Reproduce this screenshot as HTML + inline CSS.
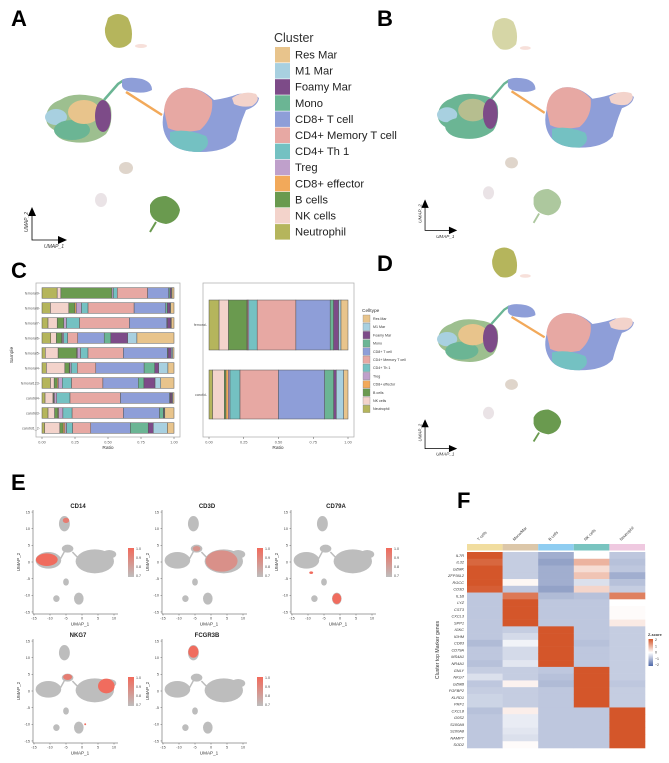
<!DOCTYPE html>
<html><head><meta charset="utf-8">
<style>
html,body{margin:0;padding:0;background:#fff;}
svg{display:block;font-family:"Liberation Sans",sans-serif;}
</style></head>
<body>
<svg id="fig" width="669" height="763" viewBox="0 0 669 763" xmlns="http://www.w3.org/2000/svg">
<g id="labels" font-weight="bold" font-size="22" fill="#000">
<text x="11" y="26">A</text>
<text x="377" y="26">B</text>
<text x="11" y="278">C</text>
<text x="377" y="271">D</text>
<text x="11" y="490">E</text>
<text x="457" y="508">F</text>
</g>
<g id="gA"></g>
<g id="gB" transform="translate(395.6,4.8) scale(0.92,0.94)"></g>
<g id="gD" transform="translate(395.6,235) scale(0.92,0.89)"></g>
<g id="legA"></g>
<g id="gC"></g>
<g id="gE"></g>
<g id="gF"></g>
</svg>
<script>
const NS="http://www.w3.org/2000/svg";
function mk(tag,attrs,parent,txt){const e=document.createElementNS(NS,tag);for(const k in attrs)e.setAttribute(k,attrs[k]);if(txt!==undefined)e.textContent=txt;parent.appendChild(e);return e;}

// ---------- data ----------
const clusters=["Res Mar","M1 Mar","Foamy Mar","Mono","CD8+ T cell","CD4+ Memory T cell","CD4+ Th 1","Treg","CD8+ effector","B cells","NK cells","Neutrophil"];
const clusterColors=["#e8c48c","#a8d0e0","#7d4b88","#6bb594","#8e9ed8","#e7a8a3","#74c1c2","#bfa0cb","#f2a95a","#6a9a4f","#f3d3cb","#b5b55c"];
// stacking order (left to right) = reversed legend
const samples=["femoral9","femoral8","femoral7","femoral6","femoral5","femoral4","femoral123","carotid4","carotid3","carotid1_2"];
// values in order: Neutrophil, NK, B, CD8eff, Treg, Th1, CD4Mem, CD8T, Mono, Foamy, M1, Res
const sampleRatios=[
[.115,.028,.387,0,.01,.03,.23,.16,.01,.01,.005,.015],
[.064,.14,.046,.01,.04,.05,.35,.24,.013,.02,.005,.025],
[.046,.07,.05,0,.02,.1,.38,.285,.005,.025,.005,.02],
[.066,.043,.04,.005,.01,.03,.076,.2,.05,.127,.07,.28],
[.025,.097,.14,.005,.025,.056,.267,.333,.005,.025,.01,.01],
[.033,.14,.033,.005,.01,.046,.14,.366,.08,.03,.07,.046],
[.064,.028,.023,.008,.03,.07,.237,.267,.043,.084,.043,.1],
[.023,.06,.005,.005,.018,.1,.38,.37,.005,.013,.005,.01],
[.046,.05,.025,.005,.033,.07,.39,.275,.03,.005,.005,.07],
[.02,.115,.025,.013,.013,.046,.137,.3,.135,.038,.107,.05]];
const groups=["femoral","carotid"];
const groupRatios=[
[.072,.067,.132,.005,.008,.06,.276,.245,.024,.036,.017,.05],
[.026,.084,.012,.017,.012,.072,.276,.332,.065,.019,.053,.031]];
const ratioTicks=["0.00","0.25","0.50","0.75","1.00"];

const genes=["IL7R","IL32","GZMK","ZFP36L2","RGCC","CD3D","IL1B","LYZ","CST3","CXCL3","SPP1","IGKC","IGHM","CD83","CD79A","MS4A1","NR4A1","GNLY","NKG7","GZMB","FGFBP2","KLRD1","PRF1","CXCL8","G0S2","S100A9","S100A8","NAMPT","SOD2"];
const cellTypes=["T cells","Mono/Mar","B cells","NK cells","Neutrophil"];
const zT=[2,1.8,2,2,2,1.9,-0.9,-0.9,-0.9,-0.9,-0.9,-0.9,-0.9,-1.1,-0.9,-0.9,-1.0,-0.8,-0.5,-0.9,-0.8,-0.7,-0.7,-1.0,-0.9,-0.9,-0.9,-0.9,-0.9];
const zMono=[-0.8,-0.8,-0.8,-0.8,0.1,-0.9,1.6,2,2,2,2,-0.8,-0.6,-0.2,-0.6,-0.6,-0.4,-0.8,-0.8,0.15,-0.8,-0.8,-0.8,0.2,-0.3,-0.3,-0.4,-0.5,0.05];
const zB=[-1.3,-1.5,-1.3,-1.3,-1.3,-1.5,-1.1,-0.9,-0.9,-0.9,-0.9,2,2,2,2,2,2,-0.9,-1.0,-1.1,-0.9,-0.9,-0.9,-0.9,-0.9,-0.9,-0.9,-0.9,-0.9];
const zNK=[0,0.9,0.4,0.7,-0.5,0.5,-1.0,-0.9,-0.9,-0.9,-0.9,-0.9,-0.9,-1.0,-0.9,-0.9,-0.9,2,2,2,2,2,2,-0.9,-0.9,-0.9,-0.9,-0.9,-0.9];
const zNeu=[-0.9,-1.0,-0.9,-1.3,-1.0,-0.8,1.5,0,0.05,0.05,0.25,-0.8,-0.8,-0.8,-0.8,-0.8,-0.8,-0.8,-0.8,-0.9,-0.8,-0.8,-0.8,2,2,2,2,2,2];
const zCols=[zT,zMono,zB,zNK,zNeu];
const annoColors=["#f1dd9f","#dcc7a9","#8fcdf1","#79c4c0","#efc9e0"];

const features=["CD14","CD3D","CD79A","NKG7","FCGR3B"];
const umapXTicks=[-15,-10,-5,0,5,10];
const umapYTicks=[15,10,5,0,-5,-10,-15];
const cbarTicks=["1.0","0.9","0.8","0.7"];

// ---------- UMAP (A/B/D) ----------
function umap(g,sparse){
  const C={};clusters.forEach((c,i)=>C[c]=clusterColors[i]);
  const op=sparse?0.55:1;
  function el(name,a){const e=mk("ellipse",a,g);return e;}
  function pth(name,a){const e=mk("path",a,g);return e;}
  pth('neutrophil-cluster',{d:"M108 18 Q118 10 128 18 Q134 30 131 42 Q124 50 114 47 Q104 40 105 28 Z",fill:C["Neutrophil"],opacity:op});
  el('small-cluster-top',{cx:141,cy:46,rx:6,ry:2,fill:C["NK cells"],opacity:0.7});
  pth('myeloid-cluster',{d:"M46 116 Q48 104 60 100 Q72 92 92 96 Q108 98 111 108 Q113 125 106 134 Q92 145 72 142 Q56 140 54 130 Q45 125 46 116 Z",fill:sparse?C["Mono"]:"#9dbf8f"});
  el('m1-region',{cx:56,cy:117,rx:11,ry:8,fill:C["M1 Mar"]});
  el('mono-region',{cx:72,cy:130,rx:18,ry:10,fill:C["Mono"]});
  el('resmar-region',{cx:84,cy:112,rx:16,ry:12,fill:C["Res Mar"],opacity:sparse?0.6:1});
  el('foamy-region',{cx:103,cy:116,rx:8,ry:16,fill:C["Foamy Mar"]});
  pth('stalk',{d:"M104 100 L118 84 L124 80",stroke:C["Mono"],"stroke-width":2.5,fill:"none"});
  pth('cd8-small-cluster',{d:"M122 80 Q128 76 142 79 Q152 82 152 90 Q145 94 133 92 Q123 91 122 86 Z",fill:C["CD8+ T cell"]});
  pth('effector-strand',{d:"M126 92 L162 115",stroke:C["CD8+ effector"],"stroke-width":2.5,fill:"none"});
  pth('tcell-cluster',{d:"M164 112 Q166 92 182 88 Q200 86 214 100 Q228 98 238 94 Q252 92 259 98 Q258 106 246 110 Q240 124 236 140 Q226 152 200 152 Q176 152 168 140 Q160 128 164 112 Z",fill:C["CD8+ T cell"]});
  pth('cd4-memory-region',{d:"M164 110 Q166 92 182 88 Q200 86 212 100 Q214 118 200 130 Q180 134 168 128 Z",fill:C["CD4+ Memory T cell"]});
  pth('th1-region',{d:"M170 132 Q186 128 206 136 Q212 146 200 152 Q178 152 170 142 Z",fill:C["CD4+ Th 1"]});
  pth('nk-region',{d:"M232 98 Q244 90 256 94 Q261 100 252 106 Q242 108 234 104 Z",fill:C["NK cells"]});
  el('small-cluster-mid',{cx:126,cy:168,rx:7,ry:6,fill:"#c9b9a8",opacity:0.6});
  el('small-cluster-low',{cx:101,cy:200,rx:6,ry:7,fill:"#d0c0c8",opacity:0.45});
  pth('bcell-cluster',{d:"M150 205 Q154 196 166 196 Q178 200 180 210 Q178 222 166 224 Q152 222 150 212 Z",fill:C["B cells"],opacity:op});
  pth('bcell-tail',{d:"M156 222 L150 232",stroke:C["B cells"],"stroke-width":2,opacity:op});
  const ax=mk("g",{},g);
  mk("path",{d:"M32 214 L32 240 L60 240",stroke:"#000","stroke-width":0.8,fill:"none"},ax);
  mk("path",{d:"M28 216 L32 207 L36 216 Z M58 236 L67 240 L58 244 Z",fill:"#000"},ax);
  mk("text",{x:44,y:248,"font-size":5,"font-style":"italic",fill:"#333"},ax,"UMAP_1");
  mk("text",{x:28,y:232,"font-size":5,"font-style":"italic",fill:"#333",transform:"rotate(-90 28 232)"},ax,"UMAP_2");
}
umap(document.getElementById('gA'),false);
umap(document.getElementById('gB'),true);
umap(document.getElementById('gD'),false);

// legend A
(function(){
  const g=document.getElementById('legA');
  const t=mk("text",{x:274,y:42,"font-size":12.5,fill:"#333"},g,"Cluster");
  
  clusters.forEach((c,i)=>{
    const y=47+i*16.1;
    const r=mk("rect",{x:275,y:y,width:15,height:15.5,fill:clusterColors[i]},g);
    
    const tx=mk("text",{x:295,y:y+11.5,"font-size":11.2,fill:"#222"},g,c);
    
  });
})();

// ---------- Panel C ----------
(function(){
  const g=document.getElementById('gC');
  const stackColors=clusterColors.slice().reverse();
  function frame(x0,x1){const r=mk("rect",{x:x0,y:283,width:x1-x0,height:154,fill:"none",stroke:"#aaa","stroke-width":0.7},g);}
  function xaxis(x0,x1,cx){
    ratioTicks.forEach((t,i)=>{const x=x0+(x1-x0)*(+t);
      mk("line",{x1:x,x2:x,y1:437,y2:439,stroke:"#555","stroke-width":0.5},g);
      const tx=mk("text",{x:x,y:443.5,"font-size":3.8,"text-anchor":"middle",fill:"#555"},g,t);
      });
    const r=mk("text",{x:cx,y:449,"font-size":4.8,"text-anchor":"middle",fill:"#333"},g,"Ratio");
    
  }
  function bar(vals,x0,x1,y,h){
    const tot=vals.reduce((a,b)=>a+b,0);let acc=0;
    vals.forEach((v,i)=>{const xa=x0+(x1-x0)*acc/tot;acc+=v;const xb=x0+(x1-x0)*acc/tot;
      if(v<=0)return;
      const r=mk("rect",{x:xa,y:y,width:xb-xa,height:h,fill:stackColors[i],stroke:"#555","stroke-width":0.5},g);
      });
  }
  frame(36,180);
  samples.forEach((s,i)=>{const yc=293+i*15; bar(sampleRatios[i],42,174,yc-5.3,10.6);
    const t=mk("text",{x:40,y:yc+1.3,"font-size":3.6,"text-anchor":"end",fill:"#555"},g,s+"-");
    });
  xaxis(42,174,108);
  const sy=mk("text",{x:13,y:355,"font-size":4.8,fill:"#333","text-anchor":"middle",transform:"rotate(-90 13 355)"},g,"Sample");
  
  frame(203,354);
  groups.forEach((s,i)=>{const y=i?370:300; bar(groupRatios[i],209,348,y,i?49:50);
    const t=mk("text",{x:207,y:y+26,"font-size":3.6,"text-anchor":"end",fill:"#555"},g,s+"-");
    });
  xaxis(209,348,278);
  const lt=mk("text",{x:362,y:312,"font-size":4.8,fill:"#333"},g,"Celltype");
  
  clusters.forEach((c,i)=>{const y=315+i*8.2;
    const r=mk("rect",{x:363,y:y,width:7,height:7.4,fill:clusterColors[i],stroke:"#777","stroke-width":0.3},g);
    
    const t=mk("text",{x:373,y:y+5,"font-size":3.6,fill:"#333"},g,c);
    });
})();

// ---------- Panel E ----------
(function(){
  const root=document.getElementById('gE');
  const defs=mk("defs",{},root);
  const lg=mk("linearGradient",{id:"cbar",x1:0,y1:0,x2:0,y2:1},defs);
  mk("stop",{offset:"0","stop-color":"#f26a5b"},lg);mk("stop",{offset:"1","stop-color":"#bdbdbd"},lg);
  const offs=[[0,0],[129,0],[258,0],[0,129],[129,129]];
  const grey=[[-5.5,11.5,1.7,2.3],[-10.5,0.5,4,2.5],[-4.5,4,1.8,1.2],[4,0.2,6,3.6],[8.5,2.3,2.2,1.3],[-5,-6,0.9,1.1],[-8,-11,1,1],[-1,-11,1.5,1.8]];
  const hi={CD14:[[-11,0.7,3.4,1.9,1],[-5,12.5,1,0.8,0.8]],CD3D:[[3.3,0.3,5,3.2,0.55],[-4.5,4,1.2,0.8,0.5]],CD79A:[[-1,-11,1.4,1.6,1],[-9,-3.2,0.6,0.4,1]],NKG7:[[7.6,1.5,2.6,2.2,1],[-4.5,4.2,1.4,0.9,0.8],[1,-10,0.3,0.3,1]],FCGR3B:[[-5.5,11.8,1.6,1.8,1]]};
  features.forEach((f,k)=>{
    const g=mk("g",{transform:`translate(${offs[k][0]},${offs[k][1]})`},root);
    
    const X=v=>34+(v+15)*3.2, Y=v=>562-v*3.33;
    grey.forEach(b=>{const e=mk("ellipse",{cx:X(b[0]),cy:Y(b[1]),rx:b[2]*3.2,ry:b[3]*3.33,fill:"#bdbdbd"},g);});
    mk("path",{d:`M${X(-7)} ${Y(0.5)} L${X(-5)} ${Y(4)} M${X(-3)} ${Y(3)} L${X(-1)} ${Y(1)}`,stroke:"#bdbdbd","stroke-width":1.5},g);
    hi[f].forEach(b=>{const e=mk("ellipse",{cx:X(b[0]),cy:Y(b[1]),rx:b[2]*3.2,ry:b[3]*3.33,fill:"#f06c5e",opacity:b[4]},g);});
    mk("path",{d:"M33 510 L33 614 L118 614",stroke:"#444","stroke-width":0.5,fill:"none"},g);
    umapYTicks.forEach(v=>{mk("line",{x1:31.5,x2:33,y1:Y(v),y2:Y(v),stroke:"#444","stroke-width":0.4},g);
      const t=mk("text",{x:30,y:Y(v)+1.3,"font-size":3.8,"text-anchor":"end",fill:"#444"},g,v);});
    umapXTicks.forEach(v=>{mk("line",{x1:X(v),x2:X(v),y1:614,y2:615.5,stroke:"#444","stroke-width":0.4},g);
      const t=mk("text",{x:X(v),y:619.5,"font-size":3.8,"text-anchor":"middle",fill:"#444"},g,v);});
    const tt=mk("text",{x:78,y:508,"font-size":6,"font-weight":"bold","text-anchor":"middle",fill:"#222"},g,f);
    const xl=mk("text",{x:80,y:625.5,"font-size":4.6,"text-anchor":"middle",fill:"#333"},g,"UMAP_1");
    const yl=mk("text",{x:20,y:562,"font-size":4.6,"text-anchor":"middle",fill:"#333",transform:"rotate(-90 20 562)"},g,"UMAP_2");
    const cb=mk("rect",{x:128,y:548,width:6,height:29,fill:"url(#cbar)"},g);
    cbarTicks.forEach((t,i)=>{const tx=mk("text",{x:136,y:550+i*9,"font-size":3.6,fill:"#444"},g,t);});
  });
})();

// ---------- Panel F ----------
(function(){
  const g=document.getElementById('gF');
  const x0=467,x1=645,y0=552,y1=748;
  const cw=(x1-x0)/cellTypes.length, rh=(y1-y0)/genes.length;
  function mix(a,b,t){return a.map((v,i)=>Math.round(v+(b[i]-v)*t));}
  function col(z){const w=[255,255,255],r=[212,86,42],b=[70,96,160];
    if(z>=0)return `rgb(${mix(w,r,Math.min(z/2,1)).join(',')})`;
    const t=Math.min(-z/2,1);return `rgb(${mix(w,b,t*0.78).join(',')})`;}
  cellTypes.forEach((c,j)=>{
    const a=mk("rect",{x:x0+j*cw,y:544,width:cw,height:6.5,fill:annoColors[j]},g);
    const cx=x0+j*cw+cw/2;
    const t=mk("text",{x:cx-6,y:541,"font-size":4,fill:"#333",transform:`rotate(-45 ${cx-6} 541)`},g,c);
    
    genes.forEach((gn,i)=>{
      const r=mk("rect",{x:x0+j*cw,y:y0+i*rh,width:cw+0.3,height:rh+0.3,fill:col(zCols[j][i])},g);
      
    });
  });
  genes.forEach((gn,i)=>{const t=mk("text",{x:464,y:y0+i*rh+rh*0.72,"font-size":3.9,"font-style":"italic","text-anchor":"end",fill:"#333"},g,gn);
    });
  const yt=mk("text",{x:439,y:650,"font-size":5.2,"text-anchor":"middle",fill:"#333",transform:"rotate(-90 439 650)"},g,"Cluster top Marker genes");
  
  const defs=mk("defs",{},g);const lg=mk("linearGradient",{id:"zbar",x1:0,y1:0,x2:0,y2:1},defs);
  mk("stop",{offset:"0","stop-color":"#d4562a"},lg);mk("stop",{offset:"0.5","stop-color":"#ffffff"},lg);mk("stop",{offset:"1","stop-color":"#4f68a8"},lg);
  const zt=mk("text",{x:648,y:636,"font-size":3.8,"font-weight":"bold",fill:"#333"},g,"Z-score");
  const zb=mk("rect",{x:648.5,y:639,width:4.5,height:27,fill:"url(#zbar)"},g);
  ["2","1","0","\u22121","\u22122"].forEach((t,i)=>{const tx=mk("text",{x:655,y:641+i*6.3,"font-size":3.5,fill:"#333"},g,t);});
})();
</script>
</body></html>
